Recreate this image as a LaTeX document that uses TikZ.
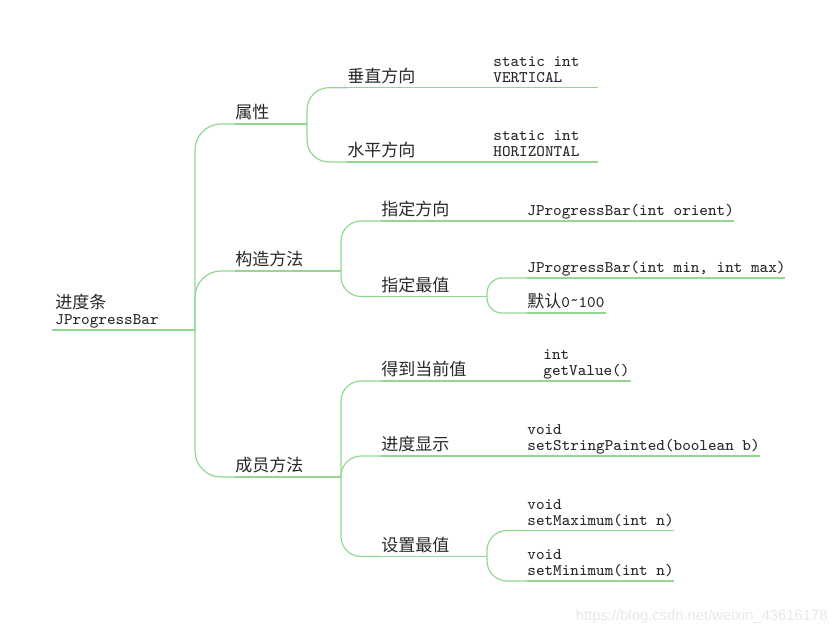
\documentclass[tikz,border=0pt]{standalone}
\usepackage{fontspec}
\newfontfamily\cjk{Noto Sans CJK SC}[Scale=1.05]
\newfontfamily\wmfont{Liberation Sans}
\usepackage{tikz}
\definecolor{lineg}{RGB}{146,216,146}
\definecolor{ink}{RGB}{40,40,40}

\begin{document}
\begin{tikzpicture}[x=0.5pt, y=-0.5pt,
    ln/.style={draw=lineg, line width=0.6pt},
    br/.style={ln, rounded corners=#1}, br/.default=10pt,
    txt/.style={anchor=south west, inner xsep=0pt, inner ysep=2.4pt, text depth=0pt,
        align=left, text=ink, font=\fontsize{8.1}{8}\selectfont\ttfamily}]
    \useasboundingbox (0,0) rectangle (838,635);

    % Nodes {root, topics, leaves}
    \node [txt, inner xsep=1.5pt] (root)  at (52,330)    {{\cjk 进度条}\\JProgressBar};
    \node [txt]                  (attr)  at (235,124)   {\cjk 属性};
    \node [txt]                  (ctor)  at (235,271)   {\cjk 构造方法};
    \node [txt]                  (memb)  at (235,477)   {\cjk 成员方法};

    \node [txt]                  (vert)  at (347,87.7)  {\cjk 垂直方向};
    \node [txt]                  (vertL) at (493,87.7)  {static int\\VERTICAL};
    \node [txt]                  (horz)  at (347,162)   {\cjk 水平方向};
    \node [txt]                  (horzL) at (493,162)   {static int\\HORIZONTAL};

    \node [txt]                  (dir)   at (381,221)   {\cjk 指定方向};
    \node [txt]                  (dirL)  at (527,221)   {JProgressBar(int orient)};
    \node [txt]                  (rng)   at (381,296.5) {\cjk 指定最值};
    \node [txt]                  (rngA)  at (527,278)   {JProgressBar(int min, int max)};
    \node [txt]                  (rngB)  at (527,313)   {{\cjk 默认}0\raisebox{0.35ex}{\textasciitilde}100};

    \node [txt]                  (get)   at (381,381)   {\cjk 得到当前值};
    \node [txt]                  (getL)  at (543,381)   {int\\getValue()};
    \node [txt]                  (paint) at (381,456)   {\cjk 进度显示};
    \node [txt]                  (paintL) at (527,456)  {void\\setStringPainted(boolean b)};
    \node [txt]                  (lim)   at (381,556.5) {\cjk 设置最值};
    \node [txt]                  (limA)  at (527,530.5) {void\\setMaximum(int n)};
    \node [txt]                  (limB)  at (527,581)   {void\\setMinimum(int n)};

    \node [anchor=east, inner sep=0pt, text=gray!18, font=\fontsize{7.4}{9}\selectfont\wmfont] (wm) at (828,617) {https://blog.csdn.net/weixin\_43616178};

    % Line ends and forks
    \coordinate (rootE)  at (195,330);
    \coordinate (attrE)  at (307,124);
    \coordinate (ctorE)  at (341,271);
    \coordinate (membE)  at (341,477);
    \coordinate (vertE)  at (598,87.7);
    \coordinate (horzE)  at (598,162);
    \coordinate (dirE)   at (734,221);
    \coordinate (rngE)   at (487,296.5);
    \coordinate (rngAE)  at (785,278);
    \coordinate (rngBE)  at (606,313);
    \coordinate (getE)   at (631,381);
    \coordinate (paintE) at (760,456);
    \coordinate (limE)   at (487,556.5);
    \coordinate (limAE)  at (674,530.5);
    \coordinate (limBE)  at (674,581);

    % Underlines
    \draw [ln] (root.south west) -- (rootE);
    \draw [ln] (attr.south west) -- (attrE);
    \draw [ln] (ctor.south west) -- (ctorE);
    \draw [ln] (memb.south west) -- (membE);
    \draw [ln] (vert.south west) -- (vertL.south west) -- (vertE);
    \draw [ln] (horz.south west) -- (horzL.south west) -- (horzE);
    \draw [ln] (dir.south west) -- (dirL.south west) -- (dirE);
    \draw [ln] (rng.south west) -- (rngE);
    \draw [ln] (rngA.south west) -- (rngAE);
    \draw [ln] (rngB.south west) -- (rngBE);
    \draw [ln] (get.south west) -- (getL.south west) -- (getE);
    \draw [ln] (paint.south west) -- (paintL.south west) -- (paintE);
    \draw [ln] (lim.south west) -- (limE);
    \draw [ln] (limA.south west) -- (limAE);
    \draw [ln] (limB.south west) -- (limBE);

    % Paths
    \draw [br=13pt]  (rootE) |- (attr.south west);
    \draw [br=13pt]  (rootE) |- (ctor.south west);
    \draw [br=13pt]  (rootE) |- (memb.south west);

    \draw [br=11pt]  (attrE) |- (vert.south west);
    \draw [br=11pt]  (attrE) |- (horz.south west);

    \draw [br]       (ctorE) |- (dir.south west);
    \draw [br]       (ctorE) |- (rng.south west);
    \draw [br=7.5pt] (rngE) |- (rngA.south west);
    \draw [br=7.5pt] (rngE) |- (rngB.south west);

    \draw [br]       (membE) |- (get.south west);
    \draw [br]       (membE) |- (paint.south west);
    \draw [br]       (membE) |- (lim.south west);
    \draw [br]       (limE) |- (limA.south west);
    \draw [br]       (limE) |- (limB.south west);
\end{tikzpicture}
\end{document}
